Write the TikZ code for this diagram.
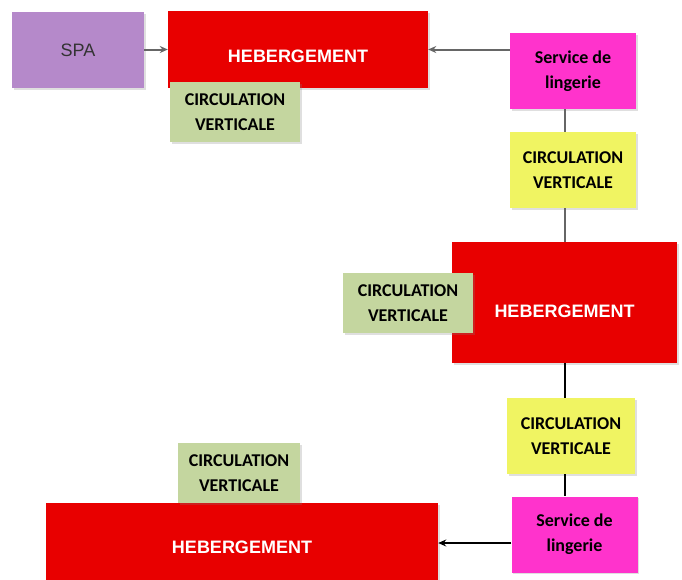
\documentclass[tikz,border=0pt]{standalone}
\usepackage{fontspec}
\usetikzlibrary{arrows.meta, positioning, shadows}
\newfontfamily\cbfont{Carlito}
\newfontfamily\arfont{Liberation Sans}
\definecolor{hbred}{HTML}{E80000}
\definecolor{spapurple}{HTML}{B589CA}
\definecolor{cvgreen}{HTML}{C4D69F}
\definecolor{cvyellow}{HTML}{F0F462}
\definecolor{lgpink}{HTML}{FF33CC}
\definecolor{lngray}{HTML}{666666}

\begin{document}
\begin{tikzpicture}[x=1pt, y=-1pt,
    box/.style={rectangle, inner sep=0pt, align=center,
                drop shadow={opacity=0.25, shadow xshift=1.5pt, shadow yshift=-1.5pt}},
    hebbox/.style={box, fill=hbred, text=white, font=\arfont\bfseries\fontsize{18}{22}\selectfont},
    circbox/.style={box, font=\cbfont\bfseries\fontsize{18}{25}\selectfont},
    lingbox/.style={box, fill=lgpink, minimum width=126pt, minimum height=76pt,
                 font=\cbfont\bfseries\fontsize{18}{25}\selectfont},
    garr/.style={-{Stealth[length=8pt, width=7pt]}, line width=2pt, draw=lngray},
    barr/.style={-{Stealth[length=8pt, width=7pt]}, line width=2pt, draw=black}
  ]
    \path[use as bounding box] (0,0) rectangle (682,579);
    \clip (0,0) rectangle (682,579);
    % top row
    \node[box, fill=spapurple, minimum width=132pt, minimum height=76pt,
          font=\arfont\fontsize{18}{22}\selectfont, text=black!80] (spa) at (78,50) {SPA};
    \node[hebbox, minimum width=260pt, minimum height=77pt, text height=25pt, text depth=0pt] (heb1) at (298,49.5) {HEBERGEMENT};
    \node[circbox, fill=cvgreen, minimum width=130pt, minimum height=60pt] (cv1) at (235,112) {CIRCULATION\\ VERTICALE};
    \node[lingbox] (ling1) at (573,71) {Service de\\ lingerie};
    \node[circbox, fill=cvyellow, minimum width=126pt, minimum height=76pt] (cv2) at (573,170) {CIRCULATION\\ VERTICALE};
    % middle
    \node[hebbox, minimum width=225pt, minimum height=121pt, text height=29pt, text depth=0pt] (heb2) at (564.5,302.5) {HEBERGEMENT};
    \node[circbox, fill=cvgreen, minimum width=130pt, minimum height=60pt] (cv3) at (408,303) {CIRCULATION\\ VERTICALE};
    \node[circbox, fill=cvyellow, minimum width=128pt, minimum height=76pt] (cv4) at (571,436) {CIRCULATION\\ VERTICALE};
    % bottom row
    \node[lingbox] (ling2) at (574.5,534.5) {Service de\\ lingerie};
    \node[hebbox, minimum width=392pt, minimum height=88pt] (heb3) at (242,547) {HEBERGEMENT};
    \node[circbox, fill=cvgreen, minimum width=122pt, minimum height=60pt] (cv5) at (239,473) {CIRCULATION\\ VERTICALE};

    \draw[garr] (spa.east |- heb1.west) -- (heb1.west);
    \draw[garr] (ling1.west |- heb1.east) -- (heb1.east);
    \draw[line width=2pt, lngray] (ling1.south -| heb2.north) -- (cv2.north -| heb2.north);
    \draw[line width=2pt, lngray] (cv2.south -| heb2.north) -- (heb2.north);
    \draw[line width=2pt] (heb2.south) -- (cv4.north -| heb2.south);
    \draw[line width=2pt] (cv4.south -| heb2.south) -- (ling2.north -| heb2.south);
    \draw[barr] (ling2.west |- 0,543) -- (heb3.east |- 0,543);
  \end{tikzpicture}
\end{document}
